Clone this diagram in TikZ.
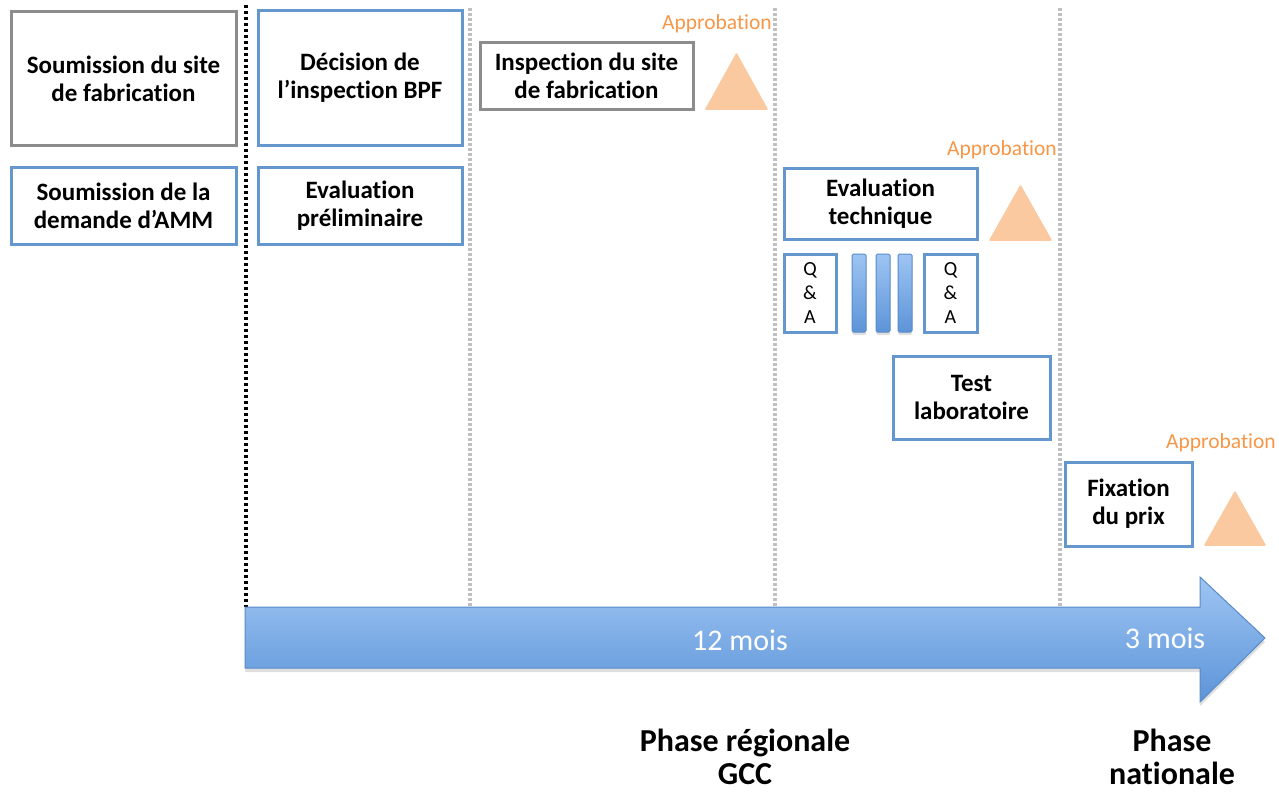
\documentclass[tikz,border=0pt]{standalone}
\usepackage{fontspec}
\setmainfont{Carlito}[Ligatures=NoCommon]
\usetikzlibrary{positioning,shadows}

\definecolor{boxblue}{RGB}{101,151,207}
\definecolor{boxgray}{RGB}{140,140,140}
\definecolor{approorange}{RGB}{247,150,70}
\definecolor{trifill}{RGB}{250,201,160}
\definecolor{arrowtop}{RGB}{158,197,243}
\definecolor{arrowbot}{RGB}{92,148,216}
\definecolor{arrowedge}{RGB}{88,138,200}
\definecolor{sepgray}{RGB}{192,192,192}

\begin{document}
\begin{tikzpicture}[x=1pt,y=-1pt,
	stepbox/.style={draw=boxblue,line width=3pt,fill=white,align=center,inner sep=0pt,font=\fontsize{25}{28}\selectfont\bfseries},
	sitebox/.style={stepbox,draw=boxgray},
	qabox/.style={draw=boxblue,line width=3pt,align=center,inner sep=0pt,minimum width=52pt,minimum height=78pt,font=\fontsize{20}{24}\selectfont},
	roundbar/.style={draw=arrowedge,line width=1pt,top color=arrowtop,bottom color=arrowbot,rounded corners=1.5pt,inner sep=0pt,minimum width=14pt,minimum height=78pt,drop shadow={shadow xshift=0pt,shadow yshift=-3pt,opacity=.25}},
	approb/.style={text=approorange,anchor=east,inner sep=0pt,font=\fontsize{21.5}{24}\selectfont},
	milestone/.style={fill=trifill,draw=trifill,line width=1.5pt,line join=round},
	sep/.style={sepgray,line width=3.5pt,dash pattern=on 3pt off 2pt},
	phase/.style={align=center,inner sep=0pt,font=\fontsize{32}{33}\selectfont\bfseries},
	mois/.style={text=white,inner sep=0pt,font=\fontsize{30}{32}\selectfont}]
	\useasboundingbox (0,0) rectangle (1279,792);

	% separators
	\draw[black,line width=3.5pt,dash pattern=on 3pt off 3pt] (246,5) -- (246,607);
	\draw[sep] (470,8) -- (470,607); \draw[sep] (775,8) -- (775,607); \draw[sep] (1060,8) -- (1060,607);

	% timeline
	\draw[arrowedge,line width=1pt,top color=arrowtop,bottom color=arrowbot,drop shadow={shadow xshift=0pt,shadow yshift=-4pt,opacity=.25}]
		(245,607) -- (1200,607) -- (1200,577) -- (1265,638) -- (1200,702) -- (1200,668) -- (245,668) -- cycle;
	\node[mois] (douze) at (740,640) {12 mois};
	\node[mois] (trois) at (1165,638) {3 mois};

	% steps
	\node[sitebox,minimum width=225pt,minimum height=133pt] (subsite) at (123.5,78.5) {Soumission du site\\de fabrication};
	\node[stepbox,minimum width=225pt,minimum height=77pt] (subamm) at (123.5,205.5) {Soumission de la\\demande d’AMM};
	\node[stepbox,minimum width=204pt,minimum height=134pt] (decbpf) at (360,78) {Décision de\\l’inspection BPF};
	\node[stepbox,minimum width=204pt,minimum height=77pt] (evalprelim) at (360,205.5) {Evaluation\\préliminaire};
	\node[sitebox,minimum width=213pt,minimum height=66pt] (inspsite) at (586.5,76) {Inspection du site\\de fabrication};
	\node[stepbox,minimum width=193pt,minimum height=71pt] (evaltech) at (880.5,203.5) {Evaluation\\technique};
	\node[qabox] (qaleft) at (810,293) {Q\\\&\\A};
	\foreach \bx/\bn in {859/bara,883/barb,905/barc}
		\node[roundbar] (\bn) at (\bx,293) {};
	\node[qabox,minimum width=53pt] (qaright) at (950.5,293) {Q\\\&\\A};
	\node[stepbox,minimum width=157pt,minimum height=83pt] (testlab) at (971.5,397.5) {Test\\laboratoire};
	\node[stepbox,minimum width=127pt,minimum height=84pt] (fixprix) at (1128.5,504) {Fixation\\du prix};

	% approvals
	\node[approb] (approa) at (772,24) {Approbation};
	\draw[milestone] (706,109) -- (767,109) -- (736.5,54) -- cycle;
	\node[approb] (approb) at (1057,150) {Approbation};
	\draw[milestone] (990,240) -- (1051,240) -- (1020.5,186) -- cycle;
	\node[approb] (approc) at (1276,443) {Approbation};
	\draw[milestone] (1205,545) -- (1265,545) -- (1235,492) -- cycle;

	% phases
	\node[phase] (regionale) at (745,757) {Phase régionale\\GCC};
	\node[phase] (nationale) at (1172,757) {Phase\\nationale};
\end{tikzpicture}
\end{document}
